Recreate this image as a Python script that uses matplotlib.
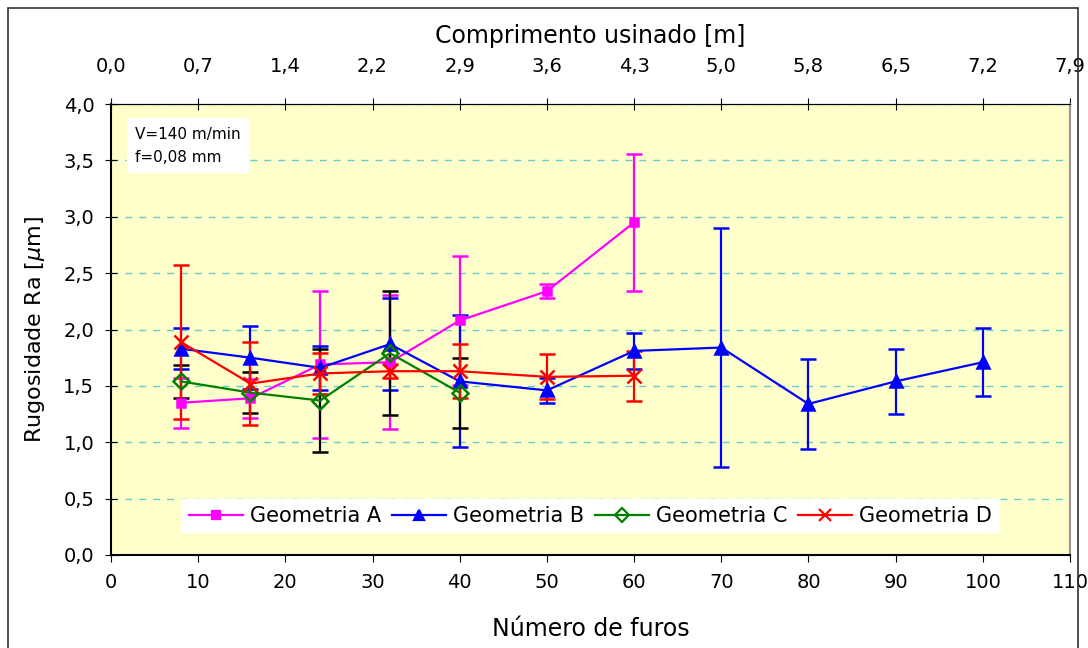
import matplotlib.pyplot as plt
from matplotlib.lines import Line2D
from matplotlib.patches import Rectangle
from matplotlib.ticker import FuncFormatter

plt.rcParams['font.family'] = ['DejaVu Sans']

furos_a = [8, 16, 24, 32, 40, 50, 60]
ra_a = [1.35, 1.39, 1.69, 1.71, 2.08, 2.34, 2.95]
err_a = [0.22, 0.175, 0.65, 0.595, 0.575, 0.065, 0.61]

furos_b = [8, 16, 24, 32, 40, 50, 60, 70, 80, 90, 100]
ra_b = [1.83, 1.75, 1.66, 1.87, 1.54, 1.46, 1.81, 1.84, 1.34, 1.54, 1.71]
err_b = [0.18, 0.28, 0.195, 0.41, 0.585, 0.11, 0.16, 1.06, 0.40, 0.29, 0.30]

furos_c = [8, 16, 24, 32, 40]
ra_c = [1.54, 1.44, 1.37, 1.79, 1.44]
err_c = [0.145, 0.18, 0.46, 0.55, 0.31]

furos_d = [8, 16, 24, 32, 40, 50, 60]
ra_d = [1.89, 1.52, 1.61, 1.63, 1.63, 1.58, 1.59]
err_d = [0.68, 0.37, 0.18, 0.06, 0.24, 0.20, 0.22]

x_ticks = list(range(0, 111, 10))
comprimento_labels = ['0,0', '0,7', '1,4', '2,2', '2,9', '3,6', '4,3',
                      '5,0', '5,8', '6,5', '7,2', '7,9']

fig = plt.figure(figsize=(10.88, 6.48), dpi=100)
ax = fig.add_axes([111 / 1088, 1 - 555 / 648, (1070 - 111) / 1088, (555 - 104) / 648])
ax.set_facecolor('#FFFFCC')

series = [
    (furos_a, ra_a, err_a, '#FF00FF', '#FF00FF', 's', 6, 'Geometria A', '#FF00FF'),
    (furos_b, ra_b, err_b, '#0000FF', '#0000FF', '^', 8, 'Geometria B', '#0000FF'),
    (furos_c, ra_c, err_c, '#008000', 'none', 'D', 8, 'Geometria C', 'black'),
    (furos_d, ra_d, err_d, '#FF0000', '#FF0000', 'x', 10, 'Geometria D', '#FF0000'),
]
handles = []
for x, y, e, cor, face, mk, ms, nome, ecor in series:
    ax.errorbar(x, y, yerr=e, color=cor, ecolor=ecor, marker=mk, markersize=ms,
                markerfacecolor=face, markeredgecolor=cor, markeredgewidth=1.8,
                linewidth=1.6, elinewidth=1.6, capsize=6, capthick=1.6)
    handles.append(Line2D([], [], color=cor, marker=mk, markersize=ms * 0.85,
                          markerfacecolor=face, markeredgecolor=cor,
                          markeredgewidth=1.6, linewidth=1.6, label=nome))

ax.set_xlim(0, 110)
ax.set_ylim(0, 4)
ax.set_xticks(x_ticks)
ax.set_yticks([i * 0.5 for i in range(9)])
ax.yaxis.set_major_formatter(FuncFormatter(lambda v, p: f'{v:.1f}'.replace('.', ',')))
ax.grid(axis='y', color='#66CCCC', linestyle=(0, (5, 5)), linewidth=1)
ax.set_axisbelow(True)
ax.tick_params(axis='y', direction='inout', length=8, labelsize=14, pad=8)
ax.tick_params(axis='x', direction='out', length=5, labelsize=14, pad=8)
ax.set_xlabel('Número de furos', fontsize=17, labelpad=18)
ax.set_ylabel(r'Rugosidade Ra [$\mu$m]', fontsize=16, labelpad=12)

for lado in ['left', 'bottom']:
    ax.spines[lado].set_linewidth(1.5)
ax.spines['right'].set_color('#999999')
ax.spines['right'].set_linewidth(1.5)

top = ax.secondary_xaxis('top')
top.set_xticks(x_ticks)
top.set_xticklabels(comprimento_labels)
top.tick_params(direction='inout', length=8, labelsize=14, pad=16)
top.set_xlabel('Comprimento usinado [m]', fontsize=17, labelpad=10)

ax.text(2.8, 3.80, 'V=140 m/min\nf=0,08 mm', fontsize=11, va='top', ha='left',
        linespacing=1.7, bbox=dict(facecolor='white', edgecolor='none', pad=6))

ax.legend(handles=handles, loc='lower center', bbox_to_anchor=(0.5, 0.025), ncol=4,
          fontsize=15, frameon=True, fancybox=False, edgecolor='none', framealpha=1,
          handlelength=2.6, columnspacing=0.5, handletextpad=0.35, borderpad=0.35)

fig.patches.append(Rectangle((8 / 1088, -0.01), 1070 / 1088, 1 - 8 / 648 + 0.01,
                             transform=fig.transFigure, fill=False,
                             edgecolor='#333333', linewidth=1.2))

fig.savefig('out.png', dpi=100)
